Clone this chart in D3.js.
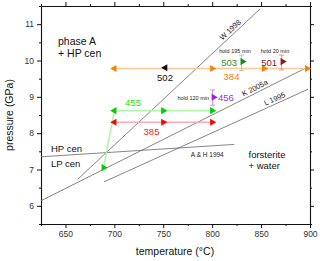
<!DOCTYPE html>
<html>
<head>
<meta charset="utf-8">
<script src="https://cdn.jsdelivr.net/npm/d3@7"></script>
<style>
  body { margin: 0; background: #fff; }
  text { font-family: "Liberation Sans", Arial, sans-serif; }
</style>
</head>
<body>
<div class="pt-chart"></div>
<script>
const width = 320;
const height = 261;

// axis ticks
const xTicks = [650, 700, 750, 800, 850, 900];
const xMinor = [625, 675, 725, 775, 825, 875];
const yTicks = [6, 7, 8, 9, 10, 11];
const yMinor = [5.5, 6.5, 7.5, 8.5, 9.5, 10.5, 11.5];

// literature boundaries [T1, P1, T2, P2]
const boundaryNames = ["W 1998", "K 2005a", "L 1995", "A & H 1994"];
const boundaryLines = [
    [662.5, 6.73, 849, 11.42],
    [625, 6.14, 897, 9.81],
    [689.5, 6.66, 898, 9.21],
    [625, 7.35, 822.5, 7.69],
];

// experiments: [T, P, direction]
const run384 = [[700, 9.78, "left"], [800, 9.78, "right"], [853, 9.78, "right"], [897, 9.78, "right"]];
const run502 = [[752, 9.8, "left"]];
const run455 = [[689, 7.05, "right"], [700, 8.62, "left"], [750, 8.62, "right"], [800, 8.62, "right"]];
const run385 = [[700, 8.3, "left"], [750, 8.3, "right"], [800, 8.3, "right"]];
// hold runs: [T, P, Plow, Phigh]
const run456 = [800.5, 8.99, 8.77, 9.19];
const run503 = [830, 9.97, 9.72, 10.15];
const run501 = [871, 9.97, 9.74, 10.15];

function chart() {
    const svg = d3.select(".pt-chart")
        .append("svg")
        .attr("width", width)
        .attr("height", height);

    svg.append("rect").attr("width", width).attr("height", height).attr("fill", "#fff");

    const x = d3.scaleLinear().domain([625, 900]).range([41, 310]);
    const y = d3.scaleLinear().domain([5.5, 11.5]).range([224, 6]);

    // frame + ticks
    const axes = [
        [d3.axisBottom, x, xTicks, xMinor, `translate(0,${y(5.5)})`, true],
        [d3.axisTop, x, xTicks, xMinor, `translate(0,${y(11.5)})`, false],
        [d3.axisLeft, y, yTicks, yMinor, `translate(${x(625)},0)`, true],
        [d3.axisRight, y, yTicks, yMinor, `translate(${x(900)},0)`, false],
    ];
    axes.forEach(([ax, sc, major, minor, tr, labels]) => {
        svg.append("g").attr("transform", tr)
            .call(ax(sc).tickValues(minor).tickSize(2).tickFormat(""))
            .call(g => g.select(".domain").remove());
        const g = svg.append("g").attr("transform", tr)
            .call(ax(sc).tickValues(major).tickSize(4).tickSizeOuter(0)
                .tickPadding(3).tickFormat(labels ? d3.format("d") : ""));
        g.selectAll("text").attr("font-size", 8.5).attr("fill", "#333")
            .style("font-family", "'Liberation Sans', Arial, sans-serif");
    });
    svg.selectAll(".domain").attr("stroke", "#111").attr("stroke-width", 1.1);
    svg.selectAll(".tick line").attr("stroke", "#111");

    svg.append("text").text("temperature (°C)")
        .attr("x", 175).attr("y", 255).attr("text-anchor", "middle")
        .attr("font-size", 10.5).attr("fill", "#111");
    svg.append("text").text("pressure (GPa)")
        .attr("transform", "translate(13,115) rotate(-90)").attr("text-anchor", "middle")
        .attr("font-size", 10.5).attr("fill", "#111");

    // boundary lines
    svg.append("g").selectAll("line")
        .data(boundaryLines).enter().append("line")
        .attr("x1", d => x(d[0])).attr("y1", d => y(d[1]))
        .attr("x2", d => x(d[2])).attr("y2", d => y(d[3]))
        .attr("stroke", "#666").attr("stroke-width", 0.8);

    // rotated labels along the lines
    const lineLabel = (i, t, fs) => {
        const d = boundaryLines[i];
        const ang = Math.atan2(y(d[3]) - y(d[1]), x(d[2]) - x(d[0])) * 180 / Math.PI;
        const frac = (t - d[0]) / (d[2] - d[0]);
        const px = x(t), py = y(d[1] + frac * (d[3] - d[1]));
        svg.append("text").text(boundaryNames[i])
            .attr("transform", `translate(${px},${py}) rotate(${ang}) translate(0,-2.5)`)
            .attr("text-anchor", "middle").attr("font-size", fs).attr("fill", "#222");
    };
    lineLabel(0, 822, 7.5);
    lineLabel(1, 846, 7.5);
    lineLabel(2, 866, 7.5);
    svg.append("text").text(boundaryNames[3])
        .attr("x", x(795)).attr("y", 157).attr("text-anchor", "middle")
        .attr("font-size", 6.5).attr("fill", "#222");

    // field labels
    const label = (txt, px, py, fs, col, anchor) =>
        svg.append("text").text(txt).attr("x", px).attr("y", py)
            .attr("font-size", fs).attr("fill", col || "#111")
            .attr("text-anchor", anchor || "start");
    label("phase A", 58, 45, 10.5);
    label("+ HP cen", 58, 57, 10.5);
    label("forsterite", 248.5, 157.5, 9.5);
    label("+ water", 248.5, 168.5, 9.5);
    label("HP cen", 51, 151.5, 9.5);
    label("LP cen", 51, 166.5, 9.5);

    const tri = d3.symbol().type(d3.symbolTriangle).size(22);
    const rot = { right: 90, left: -90 };

    function run(pts, lineCol, markCol, order) {
        const path = order || pts;
        svg.append("path")
            .attr("d", d3.line().x(d => x(d[0])).y(d => y(d[1]))(path))
            .attr("fill", "none").attr("stroke", lineCol).attr("stroke-width", 1.6);
        svg.append("g").selectAll("path").data(pts).enter().append("path")
            .attr("d", tri)
            .attr("transform", d => `translate(${x(d[0])},${y(d[1])}) rotate(${rot[d[2]]})`)
            .attr("fill", markCol);
    }
    run(run384, "#ffc890", "#ff8000", [[700, 9.78], [900, 9.78]]);
    run(run502, "none", "#111");
    run(run455, "#b0f5b0", "#00cc00");
    run(run385, "#ffaaaa", "#ff0000");

    function hold(d, errCol, markCol) {
        const g = svg.append("g");
        g.append("line").attr("x1", x(d[0])).attr("x2", x(d[0]))
            .attr("y1", y(d[2])).attr("y2", y(d[3])).attr("stroke", errCol).attr("stroke-width", 0.9);
        [d[2], d[3]].forEach(v => g.append("line")
            .attr("x1", x(d[0]) - 2.5).attr("x2", x(d[0]) + 2.5)
            .attr("y1", y(v)).attr("y2", y(v)).attr("stroke", errCol).attr("stroke-width", 0.9));
        g.append("path").attr("d", tri)
            .attr("transform", `translate(${x(d[0]) + 1},${y(d[1])}) rotate(90)`)
            .attr("fill", markCol);
    }
    hold(run456, "#c080e0", "#a020e0");
    hold(run503, "#90d090", "#1e8a1e");
    hold(run501, "#d09090", "#8b1a1a");

    // run numbers
    label("384", 231.5, 80, 9.5, "#ff8000", "middle");
    label("502", 165, 80.5, 9.5, "#111", "middle");
    label("455", 133, 106, 9.5, "#22dd22", "middle");
    label("385", 151.5, 134.5, 9.5, "#ff2020", "middle");
    label("456", 218, 101, 9.5, "#a030d0", "start");
    label("503", 237, 65.5, 9.5, "#2e8b2e", "end");
    label("501", 277, 65.5, 9.5, "#8b2020", "end");
    label("hold 120 min", 209, 99.5, 5.5, "#222", "end");
    label("hold 195 min", 235, 52.5, 5.5, "#222", "middle");
    label("hold 20 min", 275, 52.5, 5.5, "#222", "middle");
}

chart();
</script>
</body>
</html>
